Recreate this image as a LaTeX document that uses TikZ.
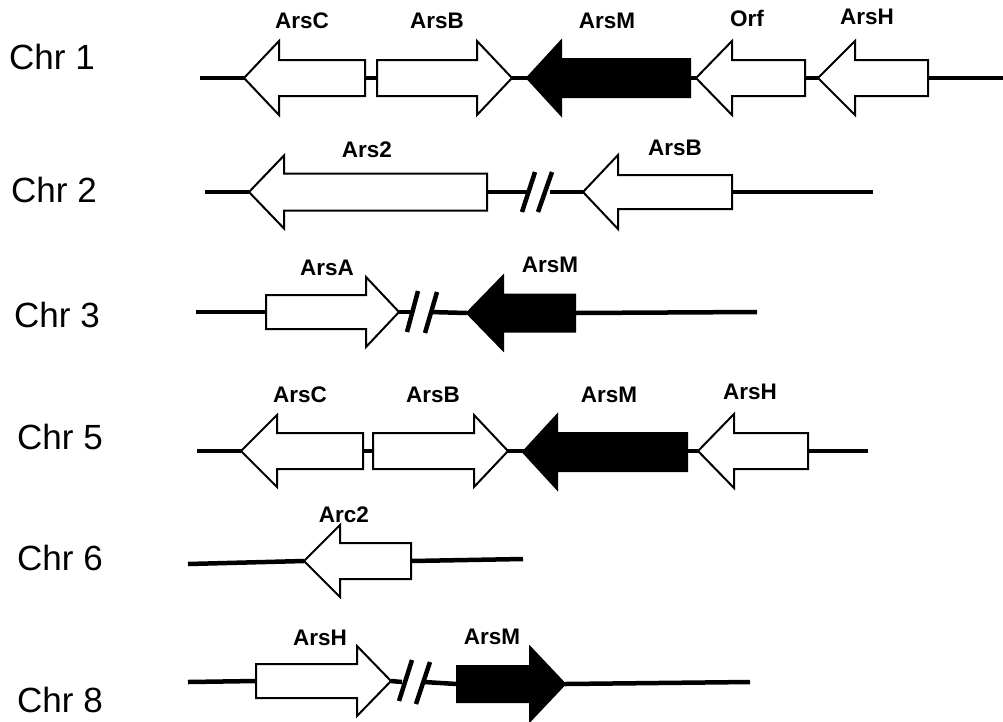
\documentclass[tikz,border=0pt]{standalone}
\usepackage{fontspec}
\setmainfont{Liberation Sans}
\begin{document}
\begin{tikzpicture}[x=1pt,y=-1pt,
  dna/.style={line width=4.5pt},
  brk/.style={line width=4.5pt},
  genewhite/.style={draw=black,line width=2pt,fill=white,line join=miter},
  geneblack/.style={draw=black,line width=2pt,fill=black,line join=miter},
  glabel/.style={font=\fontsize{22.5}{26}\selectfont\bfseries,inner sep=0pt},
  chrlabel/.style={font=\fontsize{35}{40}\selectfont,inner sep=0pt}]
\useasboundingbox (0,0) rectangle (1003,721);
% \gene{name}{tail}{headbase}{tip}{y}{bodyhalf}{headhalf}{style}
\newcommand\gene[8]{%
  \coordinate (#1-tip) at (#4,#5);
  \coordinate (#1-tail) at (#2,#5);
  \path[#8] (#2,{#5-#6}) -- (#3,{#5-#6}) -- (#3,{#5-#7}) -- (#4,#5) --
    (#3,{#5+#7}) -- (#3,{#5+#6}) -- (#2,{#5+#6}) -- cycle;}
% chromosome labels
\node[chrlabel] (c1) at (52,57) {Chr 1};
\node[chrlabel] (c2) at (54,190) {Chr 2};
\node[chrlabel] (c3) at (57,315) {Chr 3};
\node[chrlabel] (c5) at (60,437) {Chr 5};
\node[chrlabel] (c6) at (60,558) {Chr 6};
\node[chrlabel] (c8) at (60,700) {Chr 8};

% ---------- Chr 1 ----------
\coordinate (r1s) at (200,78);
\coordinate (r1e) at (1003,78);
\draw[dna] (r1s) -- (r1e);
\gene{a1}{365}{279}{244}{78}{18}{37}{genewhite}
\gene{b1}{377}{477}{512}{78}{18}{37}{genewhite}
\gene{m1}{690}{561}{527}{78}{19}{37}{geneblack}
\gene{o1}{805}{732}{696}{78}{18}{37}{genewhite}
\gene{h1}{928}{855}{818}{78}{18}{37}{genewhite}
\node[glabel] (la1) at (302,21) {ArsC};
\node[glabel] (lb1) at (437,21) {ArsB};
\node[glabel] (lm1) at (607,21) {ArsM};
\node[glabel] (lo1) at (747,18) {Orf};
\node[glabel] (lh1) at (867,17) {ArsH};

% ---------- Chr 2 ----------
\coordinate (r2s) at (205,192);
\coordinate (r2e) at (873,192);
\coordinate (r2k1) at (527,192);
\coordinate (r2k2) at (550,192);
\gene{s2}{487}{284}{249}{192}{18.5}{36.5}{genewhite}
\gene{b2}{732}{618}{583}{192}{17}{37}{genewhite}
\draw[dna] (r2s) -- (s2-tip);
\draw[dna] (s2-tail) -- (r2k1);
\draw[dna] (r2k2) -- (b2-tip);
\draw[dna] (b2-tail) -- (r2e);
\draw[brk] (535,172) -- (522,212);
\draw[brk] (552,172) -- (538,212);
\node[glabel] (ls2) at (367,150) {Ars2};
\node[glabel] (lb2) at (675,148) {ArsB};

% ---------- Chr 3 ----------
\coordinate (r3s) at (196,312);
\coordinate (r3e) at (757,312);
\coordinate (r3k1) at (411,312);
\coordinate (r3k2) at (430,312);
\gene{a3}{266}{366}{399}{312}{17}{35}{genewhite}
\gene{m3}{575}{503}{467}{313}{18.5}{37}{geneblack}
\draw[dna] (r3s) -- (a3-tail);
\draw[dna] (a3-tip) -- (r3k1);
\draw[dna] (r3k2) -- (m3-tip);
\draw[dna] (m3-tail) -- (r3e);
\draw[brk] (418,291) -- (407,332);
\draw[brk] (437,292) -- (425,333);
\node[glabel] (la3) at (327,268) {ArsA};
\node[glabel] (lm3) at (550,265) {ArsM};

% ---------- Chr 5 ----------
\coordinate (r5s) at (197,451);
\coordinate (r5e) at (868,451);
\draw[dna] (r5s) -- (r5e);
\gene{a5}{363}{277}{241}{451}{18}{36}{genewhite}
\gene{b5}{373}{474}{508}{451}{18}{36}{genewhite}
\gene{m5}{687}{557}{523}{452}{19}{37}{geneblack}
\gene{h5}{808}{734}{698}{451}{18}{37}{genewhite}
\node[glabel] (la5) at (300,395) {ArsC};
\node[glabel] (lb5) at (433,395) {ArsB};
\node[glabel] (lm5) at (609,395) {ArsM};
\node[glabel] (lh5) at (750,392) {ArsH};

% ---------- Chr 6 ----------
\coordinate (r6s) at (188,564);
\coordinate (r6e) at (523,559);
\gene{c6}{411}{340}{304}{561}{18}{36}{genewhite}
\draw[dna] (r6s) -- (c6-tip);
\draw[dna] (c6-tail) -- (r6e);
\node[glabel] (lc6) at (344,515) {Arc2};

% ---------- Chr 8 ----------
\coordinate (r8s) at (188,682);
\coordinate (r8e) at (750,682);
\coordinate (r8k1) at (402,682);
\coordinate (r8k2) at (424,682);
\gene{h8}{256}{357}{391}{681}{17}{35}{genewhite}
\gene{m8}{457}{530}{565}{684}{18}{37}{geneblack}
\draw[dna] (r8s) -- (h8-tail);
\draw[dna] (h8-tip) -- (r8k1);
\draw[dna] (r8k2) -- (m8-tail);
\draw[dna] (m8-tip) -- (r8e);
\draw[brk] (412,660) -- (399,701);
\draw[brk] (430,662) -- (416,704);
\node[glabel] (lh8) at (320,638) {ArsH};
\node[glabel] (lm8) at (492,637) {ArsM};
\end{tikzpicture}
\end{document}
